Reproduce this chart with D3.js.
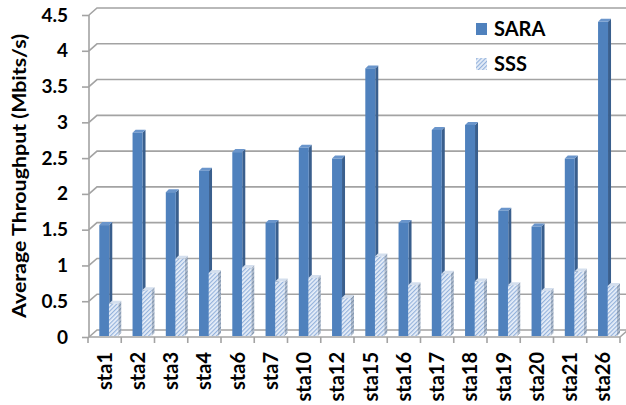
<!DOCTYPE html>
<html><head><meta charset="utf-8">
<script src="https://cdn.jsdelivr.net/npm/d3@7"></script>
<style>
html,body{margin:0;padding:0;background:#fff;}
svg{display:block;}
text{font-family:Lato,"Open Sans",sans-serif;font-weight:bold;fill:#000;}
</style></head>
<body>
<svg id="chart" width="626" height="405"></svg>
<script>
const categories = ["sta1","sta2","sta3","sta4","sta6","sta7","sta10","sta12","sta15","sta16","sta17","sta18","sta19","sta20","sta21","sta26"];
const sara = [1.55,2.84,2.01,2.31,2.57,1.58,2.63,2.48,3.74,1.58,2.88,2.95,1.75,1.53,2.48,4.39];
const sss  = [0.45,0.64,1.08,0.88,0.95,0.76,0.81,0.53,1.11,0.71,0.87,0.76,0.71,0.63,0.90,0.70];
const yTicks = [0,0.5,1,1.5,2,2.5,3,3.5,4,4.5];
const seriesNames = ["SARA","SSS"];
const yTitle = "Average Throughput (Mbits/s)";

const svg = d3.select("#chart");
const W = 626, H = 405;
const mLeft = 89, mRight = 620, mBottom = 337, mTop = 15;
const dx = 8, dy = -7;       // wall depth offset
const bdx = 3, bdy = -3;     // bar depth offset

const x = d3.scaleBand().domain(categories).range([mLeft - 1, mRight]).paddingInner(0).paddingOuter(0);
const y = d3.scaleLinear().domain([0, 4.5]).range([mBottom, mTop]);
const yb = d3.scaleLinear().domain([0, 4.5]).range([mBottom - 1, mTop - 1]);

const defs = svg.append("defs");
const pat = defs.append("pattern").attr("id","hatch").attr("patternUnits","userSpaceOnUse")
  .attr("width",3).attr("height",3).attr("patternTransform","rotate(45)");
pat.append("rect").attr("width",3).attr("height",3).attr("fill","#e9f0f9");
pat.append("rect").attr("width",1.2).attr("height",3).attr("fill","#94b2dc");
const pat2 = defs.append("pattern").attr("id","hatchSide").attr("patternUnits","userSpaceOnUse")
  .attr("width",3).attr("height",3).attr("patternTransform","rotate(45)");
pat2.append("rect").attr("width",3).attr("height",3).attr("fill","#b7c3d3");
pat2.append("rect").attr("width",1.3).attr("height",3).attr("fill","#7f93ad");

const gridC = "#a3a3a3";
const grid = svg.append("g");
yTicks.forEach(t => {
  const yy = y(t);
  if (t > 0) {
    grid.append("path").attr("d", `M${mLeft},${yy}L${mLeft+dx},${yy+dy}L${W+2},${yy+dy}`)
      .attr("fill","none").attr("stroke",gridC).attr("stroke-width",1.6);
  }
});
grid.append("path").attr("d", `M${mLeft},${mBottom}L${mLeft+dx},${mBottom+dy}L${mRight+dx},${mBottom+dy}L${mRight},${mBottom}`)
  .attr("fill","none").attr("stroke",gridC).attr("stroke-width",1.6);

const yAxis = d3.axisLeft(y).tickValues(yTicks).tickSize(7).tickPadding(14).tickFormat(d => String(d));
const ya = svg.append("g").attr("transform", `translate(${mLeft},0)`).call(yAxis);
ya.select(".domain").attr("stroke",gridC).attr("stroke-width",1.6).attr("d", `M0,${mTop}V${mBottom}`);
ya.selectAll(".tick line").attr("stroke",gridC).attr("stroke-width",1.6);
ya.selectAll(".tick text").style("font-size","19px").style("font-family","Lato, sans-serif").style("font-weight","bold").attr("fill","#000");

const xg = svg.append("g");
xg.append("line").attr("x1",mLeft).attr("x2",mRight).attr("y1",mBottom).attr("y2",mBottom)
  .attr("stroke",gridC).attr("stroke-width",1.6);
const edges = categories.map(c => x(c)).concat([x.range()[1]]);
xg.selectAll("line.tk").data(edges).join("line").attr("class","tk")
  .attr("x1",d=>d).attr("x2",d=>d).attr("y1",mBottom).attr("y2",mBottom+6)
  .attr("stroke",gridC).attr("stroke-width",1.6);
xg.selectAll("text.cl").data(categories).join("text").attr("class","cl")
  .attr("transform", d => `translate(${x(d)+x.bandwidth()/2 + 7},${352}) rotate(-90)`)
  .attr("text-anchor","end").style("font-size","20px").text(d => d);

function bar3d(g, x0, w, v, front, side, topC) {
  const y0 = yb(0), y1 = yb(v);
  g.append("path").attr("d", `M${x0+w},${y1}L${x0+w+bdx},${y1+bdy}L${x0+w+bdx},${y0+bdy}L${x0+w},${y0}Z`).attr("fill", side);
  g.append("path").attr("d", `M${x0},${y1}L${x0+bdx},${y1+bdy}L${x0+w+bdx},${y1+bdy}L${x0+w},${y1}Z`).attr("fill", topC);
  g.append("rect").attr("x", x0).attr("y", y1).attr("width", w).attr("height", y0 - y1).attr("fill", front);
}
const bars = svg.append("g");
const bw = x.bandwidth();
categories.forEach((c, i) => {
  const g = bars.append("g");
  bar3d(g, x(c) + bw*0.34, bw*0.30, sara[i], "#4f81bd", "#3a5f8d", "#6a95cb");
  bar3d(g, x(c) + bw*0.63, bw*0.28, sss[i], "url(#hatch)", "url(#hatchSide)", "#d4dfee");
});

svg.append("text").attr("transform", `translate(26,${176}) rotate(-90)`).attr("text-anchor","middle")
  .attr("textLength", 284).attr("lengthAdjust","spacingAndGlyphs")
  .style("font-size","18px").text(yTitle);

const lg = svg.append("g");
const legY = [29, 64];
seriesNames.forEach((s, i) => {
  lg.append("rect").attr("x",476).attr("y",legY[i]-6).attr("width",11).attr("height",12)
    .attr("fill", i === 0 ? "#4f81bd" : "url(#hatch)");
  lg.append("text").attr("x",494).attr("y",legY[i]+7).style("font-size","20px").text(s);
});
</script>
</body></html>
